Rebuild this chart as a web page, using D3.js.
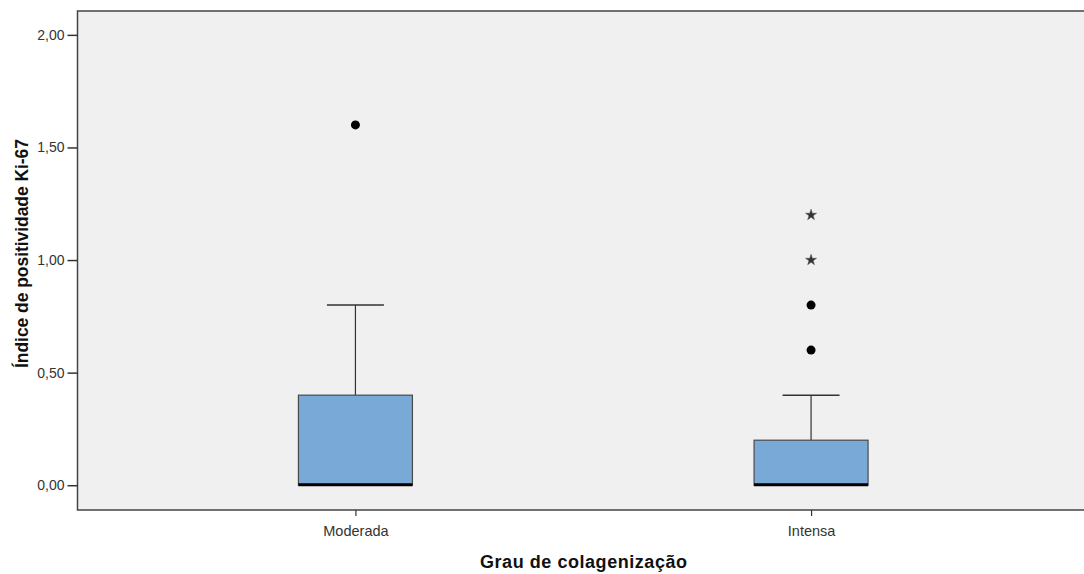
<!DOCTYPE html>
<html>
<head>
<meta charset="utf-8">
<script src="https://cdn.jsdelivr.net/npm/d3@7"></script>
<style>
  html, body { margin: 0; padding: 0; background: #ffffff; }
  svg { display: block; }
</style>
</head>
<body>
<svg id="chart" width="1084" height="574"></svg>
<script>
// Ki-67 positivity index by degree of collagenization
const categories = ["Moderada", "Intensa"];
const q1 = [0.0, 0.0];
const medians = [0.0, 0.0];
const q3 = [0.40, 0.20];
const whiskerLow = [0.0, 0.0];
const whiskerHigh = [0.80, 0.40];
// mild outliers (circles) and extreme outliers (stars)
const outliers = [[1.60], [0.80, 0.60]];
const extremes = [[], [1.20, 1.00]];
const yTicks = [0, 0.5, 1.0, 1.5, 2.0];

(function () {
const svg = d3.select("#chart");
const plotLeft = 77.5, plotTop = 11, plotBottom = 510, plotRight = 1089;
const font = "Liberation Sans, Arial, sans-serif";

const x = d3.scalePoint().domain(categories).range([plotLeft, plotRight]).padding(0.61);
const y = d3.scaleLinear().domain([-0.11, 2.106]).range([plotBottom, plotTop]);
const fmt = v => d3.format(".2f")(v).replace(".", ",");

// plot background
svg.append("rect")
  .attr("x", plotLeft).attr("y", plotTop)
  .attr("width", plotRight - plotLeft).attr("height", plotBottom - plotTop)
  .attr("fill", "#f0f0f0");

const boxW = 114, capW = 57;
const star = d3.symbol().type(d3.symbolStar).size(38);

categories.forEach((c, i) => {
  const cx = x(c);
  const g = svg.append("g");
  // whisker stems
  g.append("line").attr("x1", cx).attr("x2", cx)
    .attr("y1", y(q3[i])).attr("y2", y(whiskerHigh[i]))
    .attr("stroke", "#333").attr("stroke-width", 1.2);
  g.append("line").attr("x1", cx - capW / 2).attr("x2", cx + capW / 2)
    .attr("y1", y(whiskerHigh[i])).attr("y2", y(whiskerHigh[i]))
    .attr("stroke", "#333").attr("stroke-width", 1.5);
  // box
  g.append("rect")
    .attr("x", cx - boxW / 2).attr("y", y(q3[i]))
    .attr("width", boxW).attr("height", Math.max(0, y(q1[i]) - y(q3[i])))
    .attr("fill", "#79a9d6").attr("stroke", "#4a4a4a").attr("stroke-width", 1.2);
  // median
  g.append("line").attr("x1", cx - boxW / 2).attr("x2", cx + boxW / 2)
    .attr("y1", y(medians[i]) - 0.5).attr("y2", y(medians[i]) - 0.5)
    .attr("stroke", "#000").attr("stroke-width", 3);
  // outliers
  g.selectAll("circle.o").data(outliers[i]).enter().append("circle")
    .attr("cx", cx).attr("cy", d => y(d)).attr("r", 4.5).attr("fill", "#000");
  g.selectAll("path.e").data(extremes[i]).enter().append("path")
    .attr("d", star)
    .attr("transform", d => `translate(${cx},${y(d)})`)
    .attr("fill", "#333").attr("stroke", "#555").attr("stroke-width", 0.5);
});

// frame
svg.append("path")
  .attr("d", `M${plotRight},${plotTop}H${plotLeft}V${plotBottom}H${plotRight}`)
  .attr("fill", "none").attr("stroke", "#444").attr("stroke-width", 1.5);

// y axis
const yAxis = d3.axisLeft(y).tickValues(yTicks).tickFormat(fmt).tickSize(10).tickPadding(3);
const ya = svg.append("g").attr("transform", `translate(${plotLeft},0)`).call(yAxis);
ya.select(".domain").remove();
ya.selectAll(".tick line").attr("stroke", "#333").attr("stroke-width", 1.5);
ya.selectAll(".tick text")
  .attr("font-family", font)
  .attr("font-size", 14).attr("fill", "#333");

// x axis
const xAxis = d3.axisBottom(x).tickSize(6).tickPadding(10);
const xa = svg.append("g").attr("transform", `translate(0,${plotBottom})`).call(xAxis);
xa.select(".domain").remove();
xa.selectAll(".tick line").attr("stroke", "#333").attr("stroke-width", 1.2);
xa.selectAll(".tick text")
  .attr("font-family", font)
  .attr("font-size", 14.5).attr("fill", "#333");

// axis titles
svg.append("text")
  .attr("x", 583.5).attr("y", 567.5)
  .attr("text-anchor", "middle")
  .attr("font-family", font)
  .attr("font-weight", "bold").attr("font-size", 18).attr("fill", "#111")
  .attr("textLength", 207).attr("lengthAdjust", "spacing")
  .text("Grau de colagenização");

svg.append("text")
  .attr("transform", "translate(28,253.5) rotate(-90)")
  .attr("text-anchor", "middle")
  .attr("font-family", font)
  .attr("font-weight", "bold").attr("font-size", 17.5).attr("fill", "#111")
  .attr("textLength", 229).attr("lengthAdjust", "spacing")
  .text("Índice de positividade Ki-67");
})();
</script>
</body>
</html>
